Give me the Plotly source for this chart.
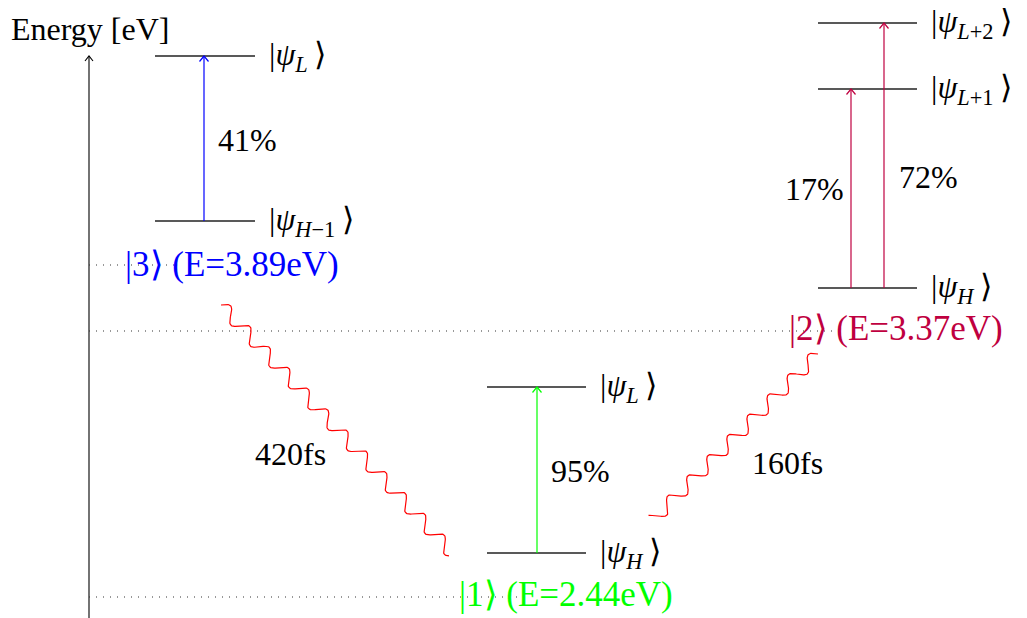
import numpy as np
import plotly.graph_objects as go

FONT = "Liberation Serif"
FS = 32
FS_STATE = 35

# ---- data (schematic diagram: x/y are diagram rows/columns, y grows downward) ----
axis_title = "Energy [eV]"

state_names = ["1", "2", "3"]
state_energy = [2.44, 3.37, 3.89]
state_colors = ["#00FF00", "#BF0040", "#0000FF"]
state_row = [597, 331, 265]          # dotted reference line row
state_line_end = [518, 838, 178]
state_label_x = [457, 787, 123]
state_label_y = [594, 328, 264]

level_sub = ["L", "H−1", "L", "H", "L+2", "L+1", "H"]
level_y = [56, 221, 387, 553, 23, 89, 288]
level_x0 = [155, 155, 487, 487, 818, 818, 818]
level_x1 = [255, 255, 586, 586, 917, 917, 917]

trans_state = [2, 0, 1, 1]           # index into state lists
trans_x = [204, 537, 851, 884]
trans_from = [221, 553, 288, 288]
trans_to = [56, 387, 89, 23]
trans_pct = [41, 95, 17, 72]
pct_x = [216, 549, 783, 897]
pct_y = [140, 471, 189, 177]

decay_time = [420, 160]
decay_start = [(221, 305), (818, 354)]
decay_end = [(452, 553), (653, 520)]
decay_side = [1, -1]
time_x = [253, 750]
time_y = [454, 463]

# page offset (browser body margin)
OFF = 8
W, H = 1027, 618

fig = go.Figure()

def seg(xs, ys, color, width=1.3, dash="solid"):
    fig.add_trace(go.Scatter(x=xs, y=ys, mode="lines", hoverinfo="skip",
                             line=dict(color=color, width=width, dash=dash)))

def chevron(x, tip, color, hw=4.5, h=5.5, width=1.2):
    seg([x - hw, x, x + hw], [tip + h, tip, tip + h], color, width)

# energy axis
seg([89, 89], [618, 56], "black", 1.1)
chevron(89, 56, "black", 4, 5, 1.1)

# dotted state lines
for i in range(3):
    seg([89, state_line_end[i]], [state_row[i], state_row[i]], "#333333", 1.1, "1px,6px")

# orbital levels
for i in range(len(level_y)):
    seg([level_x0[i], level_x1[i]], [level_y[i], level_y[i]], "#222222", 1.3)

# excitations
for i in range(len(trans_x)):
    c = state_colors[trans_state[i]]
    seg([trans_x[i], trans_x[i]], [trans_from[i], trans_to[i]], c, 1.2)
    chevron(trans_x[i], trans_to[i], c)

# wavy relaxations (snake decoration)
for i in range(len(decay_time)):
    (x0, y0), (x1, y1) = decay_start[i], decay_end[i]
    L = np.hypot(x1 - x0, y1 - y0)
    dx, dy = (x1 - x0) / L, (y1 - y0) / L
    nx, ny = (dy, -dx) if decay_side[i] > 0 else (-dy, dx)
    s = np.linspace(0, L, 600)
    off = 6.5 * np.sin(2 * np.pi * s / 28.5)
    seg(x0 + dx * s + nx * off, y0 + dy * s + ny * off, "#FF0000", 1.2)

ann = []
def text(x, y, t, color="black", size=FS):
    ann.append(dict(x=x, y=y, text=t, showarrow=False, xanchor="left", yanchor="middle",
                    font=dict(family=FONT, size=size, color=color)))

def ket(sub):
    head, tail = sub[0], sub[1:]
    return "|<i>ψ</i><sub><i>" + head + "</i>" + tail + "</sub>\u2009⟩"

text(9, 29, axis_title)
for i in range(len(level_y)):
    text(level_x1[i] + 12, level_y[i], ket(level_sub[i]))
for i in range(len(trans_pct)):
    text(pct_x[i], pct_y[i], f"{trans_pct[i]}%")
for i in range(3):
    text(state_label_x[i], state_label_y[i],
         f"|{state_names[i]}⟩ (E={state_energy[i]:.2f}eV)", state_colors[i], FS_STATE)
for i in range(len(decay_time)):
    text(time_x[i], time_y[i], f"{decay_time[i]}fs")

fig.update_layout(width=W - OFF, height=H - OFF, margin=dict(l=0, r=0, t=0, b=0),
                  paper_bgcolor="white", plot_bgcolor="white", showlegend=False,
                  xaxis=dict(range=[OFF, W], visible=False, fixedrange=True),
                  yaxis=dict(range=[H, OFF], visible=False, fixedrange=True),
                  annotations=ann)
fig.write_html("out.html", config={"displayModeBar": False})
